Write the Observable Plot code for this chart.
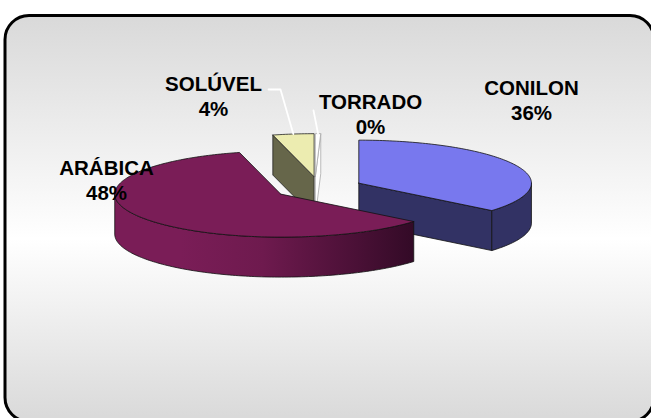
<!DOCTYPE html>
<html>
<head>
<meta charset="utf-8">
<script src="https://cdn.jsdelivr.net/npm/d3@7"></script>
<script src="https://cdn.jsdelivr.net/npm/@observablehq/plot@0.6"></script>
<style>html,body{margin:0;padding:0;background:#fff}svg{display:block}</style>
</head>
<body>
<div id="chart"></div>
<script>
// Data
const categories = ["CONILON", "ARÁBICA", "SOLÚVEL", "TORRADO"];
const percentLabels = ["36%", "48%", "4%", "0%"];   // printed labels
const drawnShares = [36, 60, 4, 0.5];               // share of the circle each slice really occupies (TORRADO is a hairline)

// Style and layout
const topColors = ["#7878ee", "#7a1d57", "#ececb0", "#ffffff"];
const wallColors = ["#323264", "#66664a", "#66664a", "#ffffff"];
const rimColors = ["#323264", "url(#rimPurple)", "#66664a", "#ffffff"];
const edgeColors = ["#111", "#111", "#222", "#aaa"];
const sliceNudge = [0, 0, 0, -5];
const drawOrder = [2, 3, 0, 1];
const width = 651, height = 418;
const pie = {cx: 318, cy: 187.5, rx: 166, ry: 43, depth: 40, explode: 44, stretchRight: 1.04, skew: 0.1};
const labelAnchors = [[531, 88], [106, 168], [213, 84], [370, 102]];
const labelGap = 25;
const leaderBends = {2: [[268, 89], [280, 89]], 3: [[313, 110]]};

// Slice geometry from the shares
let cumulative = 0;
const slices = categories.map((name, i) => {
  const a0 = cumulative / 100 * 2 * Math.PI;
  cumulative += drawnShares[i];
  const a1 = cumulative / 100 * 2 * Math.PI;
  const mid = (a0 + a1) / 2;
  const oy = -Math.cos(mid) * pie.explode * pie.ry / pie.rx;
  const ox = Math.sin(mid) * pie.explode - pie.skew * oy + sliceNudge[i];
  return {i, name, a0, a1, mid, cx: pie.cx + ox, cy: pie.cy + oy};
});
const onRim = (s, a, drop = 0) => {
  const dx = Math.sin(a) * pie.rx;
  return {x: s.cx + (dx > 0 ? dx * pie.stretchRight : dx), y: s.cy - Math.cos(a) * pie.ry + drop};
};
const arcPoints = (s, a0, a1, drop = 0) => {
  const n = Math.max(2, Math.ceil((a1 - a0) / 0.02));
  return d3.range(n + 1).map(k => onRim(s, a0 + (a1 - a0) * k / n, drop));
};
const apex = (s, drop = 0) => ({x: s.cx, y: s.cy + drop});

const shapes = [];
const add = (pts, fill, stroke) => shapes.push({pts, fill, stroke});
for (const idx of drawOrder) {
  const s = slices[idx];
  if (idx === 2) {
    add([onRim(s, s.a0), apex(s), apex(s, pie.depth), onRim(s, s.a0, pie.depth)], wallColors[idx], edgeColors[idx]);
  } else if (idx === 0 || idx === 3) {
    add([apex(s), onRim(s, s.a1), onRim(s, s.a1, pie.depth), apex(s, pie.depth)], wallColors[idx], edgeColors[idx]);
  }
  const from = Math.max(s.a0, Math.PI / 2), to = Math.min(s.a1, 3 * Math.PI / 2);
  if (to > from) {
    add([...arcPoints(s, from, to), ...arcPoints(s, from, to, pie.depth).reverse()], rimColors[idx], edgeColors[idx]);
  }
  add([apex(s), ...arcPoints(s, s.a0, s.a1)], topColors[idx], edgeColors[idx]);
}
const shapeRows = shapes.flatMap((d, k) => [...d.pts, d.pts[0]].map(p => ({...p, k, fill: d.fill, stroke: d.stroke})));

const leaders = Object.entries(leaderBends).flatMap(([i, bends]) => {
  const s = slices[+i];
  return [...bends.map(([x, y]) => ({x, y})), onRim(s, s.mid)].map(p => ({...p, i}));
});

const labelRows = categories.flatMap((name, i) => [
  {text: name, x: labelAnchors[i][0], y: labelAnchors[i][1]},
  {text: percentLabels[i], x: labelAnchors[i][0], y: labelAnchors[i][1] + labelGap}
]);

const defs = () => {
  const svg = d3.create("svg:defs");
  const grad = (id, attrs, stops) => {
    const g = svg.append("linearGradient").attr("id", id);
    Object.entries(attrs).forEach(([k, v]) => g.attr(k, v));
    stops.forEach(([o, c]) => g.append("stop").attr("offset", o).attr("stop-color", c));
  };
  grad("panel", {x1: 0, y1: 0, x2: 0, y2: 1}, [[0, "#d9d9d9"], [0.55, "#ffffff"], [1, "#d9d9d9"]]);
  grad("rimPurple", {gradientUnits: "userSpaceOnUse", x1: 180, y1: 0, x2: 415, y2: 0}, [[0, "#7a1d57"], [0.35, "#6e1a4e"], [0.75, "#4a1036"], [1, "#320a26"]]);
  return svg.node();
};

const chart = Plot.plot({
  width, height,
  margin: 0,
  style: {background: "#fff", fontFamily: "'Liberation Sans', Arial, sans-serif"},
  x: {domain: [0, width], range: [0, width], axis: null},
  y: {domain: [0, height], range: [0, height], axis: null},
  marks: [
    defs,
    Plot.rect([{}], {x1: () => 5, x2: () => 654, y1: () => 15.5, y2: () => 421.5, rx: 24, fill: "url(#panel)", stroke: "#000", strokeWidth: 3}),
    Plot.line(shapeRows, {x: "x", y: "y", z: "k", fill: d => d.fill, stroke: d => d.stroke, strokeWidth: 0.8, curve: "linear"}),
    Plot.line(leaders, {x: "x", y: "y", z: "i", stroke: "#fff", strokeWidth: 1.8}),
    Plot.text(labelRows, {x: "x", y: "y", text: "text", fontSize: 20.5, fontWeight: "bold", fill: "#000"})
  ]
});
document.getElementById("chart").append(chart);
</script>
</body>
</html>
